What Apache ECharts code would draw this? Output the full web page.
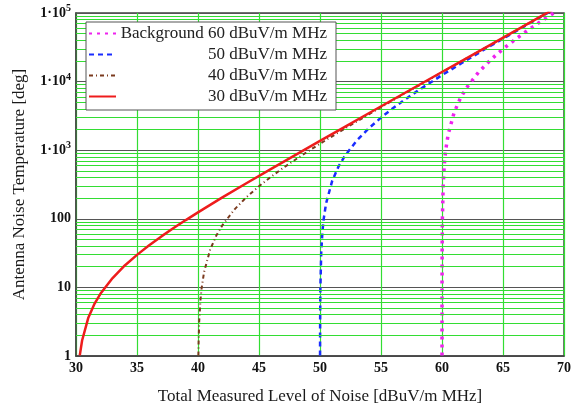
<!DOCTYPE html>
<html><head><meta charset="utf-8">
<script src="https://cdn.jsdelivr.net/npm/echarts@6/dist/echarts.min.js"></script>
<style>html,body{margin:0;padding:0;background:#fff}#c{width:574px;height:410px}</style>
</head><body><div id="c"></div>
<script>
// ---- data ----
var seriesNames = ['Background 60 dBuV/m MHz', '50 dBuV/m MHz', '40 dBuV/m MHz', '30 dBuV/m MHz'];

var bg30 = [[30.31,1.02],[30.5,1.68],[31,3.57],[31.5,5.69],[32,8.07],[33,13.7],[34,20.9],[35,29.8],[36,41.1],[37,55.4],[38,73.3],[39,95.8],[40,124.2],[42,204.9],[44,332.8],[46,535.6],[48,857],[50,1366],[52,2173],[54,3453],[56,5480],[58,8694],[60,13786],[62,21860],[64,34650],[66,54920],[68,87060],[69,109600]];

var bg40 = [[40.032,1.02],[40.05,1.60],[40.1,3.21],[40.2,6.50],[40.3,9.87],[40.5,16.8],[41,35.7],[41.5,56.9],[42,80.7],[43,137.4],[44,208.6],[45,298.4],[46,411.4],[47,553.6],[48,732.7],[49,958.2],[50,1242],[52,2049],[54,3328],[56,5356],[58,8569],[60,13662],[62,21730],[64,34530],[66,54800],[68,86940],[69,109480]];

var bg50 = [[50.0032,1.02],[50.01,3.18],[50.03,9.56],[50.1,32.1],[50.2,65.0],[50.3,98.7],[50.5,168.4],[51,357.3],[51.5,569.3],[52,807.2],[53,1373],[54,2086],[55,2984],[56,4114],[57,5536],[58,7327],[60,12420],[62,20490],[64,33280],[66,53560],[68,85690],[69,108240]];

var bg60 = [[60.00032,1.02],[60.001,3.18],[60.003,9.54],[60.01,31.8],[60.03,95.6],[60.1,321],[60.2,650],[60.3,987],[60.5,1684],[61,3573],[61.5,5693],[62,8072],[63,13735],[64,20864],[65,29840],[66,41140],[67,55364],[68,73270],[68.5,83890],[69,95820],[69.2,100980]];

var xMin = 30, xMax = 70, xStep = 5;
var yTickValues = [1, 10, 100, 1000, 10000, 100000];
var yTickBase   = ['1', '10', '100', '1\u00b710', '1\u00b710', '1\u00b710'];
var yTickExp    = ['', '', '', '3', '4', '5'];
var minorMultipliers = [2, 3, 4, 5, 6, 7, 8, 9];
var minorDecades = [1, 10, 100, 1000, 10000];

var xTitle = 'Total Measured Level of Noise [dBuV/m MHz]';
var yTitle = 'Antenna Noise Temperature [deg]';

// ---- chart ----
var minorLines = [];
minorDecades.forEach(function (d) {
  minorMultipliers.forEach(function (m) { minorLines.push({ yAxis: d * m }); });
});

var serif = '"Liberation Serif", "Times New Roman", serif';
var chart = echarts.init(document.getElementById('c'), null, { renderer: 'canvas' });
chart.setOption({
  animation: false,
  backgroundColor: '#ffffff',
  grid: { left: 76, right: 7, top: 13, bottom: 52, show: true, borderColor: '#444', borderWidth: 1.5, backgroundColor: 'transparent' },
  legend: {
    data: seriesNames,
    orient: 'vertical',
    left: 86, top: 22,
    padding: [3, 9, 5, 2],
    backgroundColor: '#ffffff',
    borderColor: '#555', borderWidth: 1,
    itemWidth: 27, itemHeight: 14, itemGap: 4, itemTextGap: 6,
    itemStyle: { opacity: 0 },
    textStyle: {
      fontFamily: serif, fontSize: 17, color: '#222', lineHeight: 17,
      rich: { t: { fontFamily: serif, fontSize: 17, color: '#222', width: 206, align: 'right', lineHeight: 17 } }
    },
    formatter: function (name) { return '{t|' + name + '}'; },
    z: 10
  },
  xAxis: {
    type: 'value', min: xMin, max: xMax, interval: xStep,
    name: xTitle, nameLocation: 'middle', nameGap: 32,
    nameTextStyle: { fontFamily: serif, fontSize: 17, color: '#1a1a1a' },
    axisLine: { show: true, lineStyle: { color: '#444', width: 1.5 } },
    axisTick: { show: false },
    axisLabel: { fontFamily: serif, fontSize: 14, fontWeight: 'bold', color: '#111', margin: 5 },
    splitLine: { show: true, lineStyle: { color: '#33dd33', width: 1.2, type: 'solid' } }
  },
  yAxis: {
    type: 'log', logBase: 10, min: 1, max: 100000,
    name: yTitle, nameLocation: 'middle', nameGap: 48,
    nameTextStyle: { fontFamily: serif, fontSize: 17, color: '#1a1a1a' },
    axisLine: { show: true, lineStyle: { color: '#444', width: 1.5 } },
    axisTick: { show: false },
    axisLabel: {
      margin: 5,
      formatter: function (v) {
        var i = yTickValues.indexOf(Math.round(v));
        if (i < 0) return '';
        if (yTickExp[i] === '') return '{b|' + yTickBase[i] + '}';
        return '{b|' + yTickBase[i] + '}{s|' + yTickExp[i] + '}';
      },
      rich: {
        b: { fontFamily: serif, fontSize: 14, fontWeight: 'bold', color: '#111' },
        s: { fontFamily: serif, fontSize: 10, fontWeight: 'bold', color: '#111', padding: [0, 0, 9, 0] }
      }
    },
    splitLine: { show: true, lineStyle: { color: '#555', width: 1.2 } }
  },
  series: [
    {
      name: 'minor', type: 'line', data: [[30, 1]], symbol: 'none', silent: true, z: 1,
      lineStyle: { opacity: 0 },
      markLine: {
        silent: true, symbol: ['none', 'none'], label: { show: false },
        lineStyle: { color: '#33dd33', type: 'solid', width: 1.2 },
        data: minorLines, animation: false
      }
    },
    {
      name: seriesNames[0], type: 'line', data: bg60, symbol: 'none', z: 3,
      lineStyle: { color: '#ee22ee', width: 3.5, type: [3, 5] },
      itemStyle: { color: '#ee22ee' }
    },
    {
      name: seriesNames[1], type: 'line', data: bg50, symbol: 'none', z: 4,
      lineStyle: { color: '#1a2cff', width: 2.5, type: [5, 4] },
      itemStyle: { color: '#1a2cff' }
    },
    {
      name: seriesNames[2], type: 'line', data: bg40, symbol: 'none', z: 5,
      lineStyle: { color: '#7b3a1e', width: 2, type: [4, 3, 1, 3] },
      itemStyle: { color: '#7b3a1e' }
    },
    {
      name: seriesNames[3], type: 'line', data: bg30, symbol: 'none', z: 6,
      lineStyle: { color: '#ee1c1c', width: 2.5, type: 'solid' },
      itemStyle: { color: '#ee1c1c' }
    }
  ]
});
</script>
</body></html>
